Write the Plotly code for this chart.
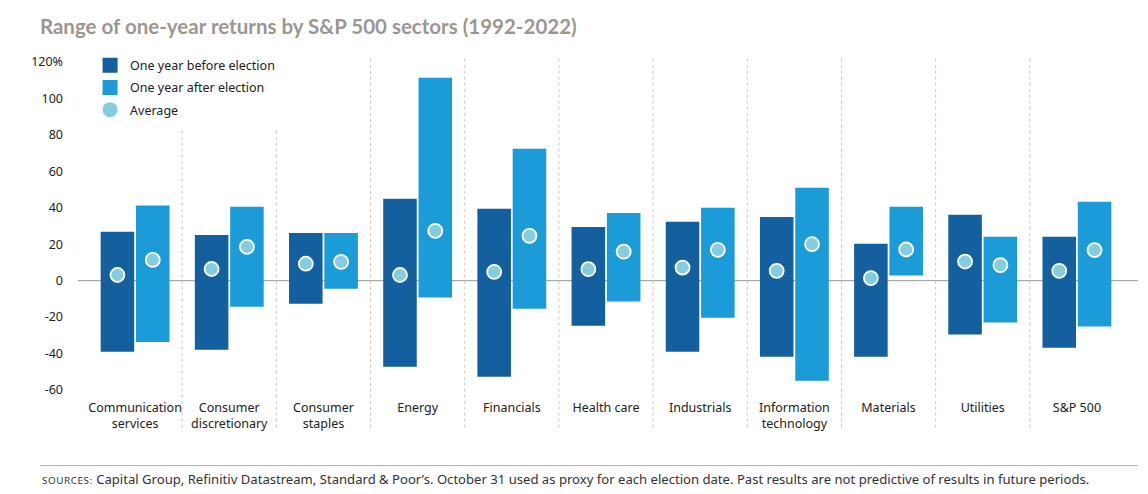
import plotly.graph_objects as go

categories = ["Communication<br>services", "Consumer<br>discretionary", "Consumer<br>staples",
              "Energy", "Financials", "Health care", "Industrials",
              "Information<br>technology", "Materials", "Utilities", "S&P 500"]

before_high = [26.8, 25.1, 26.2, 44.9, 39.4, 29.5, 32.3, 35.0, 20.2, 36.2, 24.1]
before_low = [-39.0, -37.9, -12.6, -47.2, -52.7, -24.7, -39.0, -41.7, -41.7, -29.6, -36.8]
before_avg = [3.1, 6.4, 9.3, 3.1, 4.8, 6.3, 7.2, 5.4, 1.4, 10.5, 5.4]

after_high = [41.2, 40.5, 26.2, 111.4, 72.4, 37.2, 40.0, 51.0, 40.5, 24.1, 43.3]
after_low = [-33.7, -14.3, -4.4, -9.3, -15.4, -11.5, -20.3, -54.9, 2.8, -23.0, -25.2]
after_avg = [11.4, 18.5, 10.3, 27.3, 24.6, 15.9, 16.9, 20.0, 17.1, 8.5, 16.8]

tick_vals = [-60, -40, -20, 0, 20, 40, 60, 80, 100, 120]
tick_text = ["-60", "-40", "-20", "0", "20", "40", "60", "80", "100", "120%"]

DARK = "#145f9e"
LIGHT = "#1b9bd7"
AVG = "#86cce0"
TITLE_FONT = "Lato"
FONT = "Noto Sans"

fig = go.Figure()
fig.add_trace(go.Bar(
    x=categories, base=before_low,
    y=[h - l for h, l in zip(before_high, before_low)],
    name="One year before election", marker=dict(color=DARK, line=dict(width=0)),
    offsetgroup="before", alignmentgroup="g", showlegend=False,
))
fig.add_trace(go.Bar(
    x=categories, base=after_low,
    y=[h - l for h, l in zip(after_high, after_low)],
    name="One year after election", marker=dict(color=LIGHT, line=dict(width=0)),
    offsetgroup="after", alignmentgroup="g", showlegend=False,
))
fig.add_trace(go.Scatter(
    x=categories, y=before_avg, mode="markers", name="Average", showlegend=False,
    marker=dict(color=AVG, size=14, line=dict(color="white", width=1.8)),
    offsetgroup="before", alignmentgroup="g",
))
fig.add_trace(go.Scatter(
    x=categories, y=after_avg, mode="markers", name="Average", showlegend=False,
    marker=dict(color=AVG, size=14, line=dict(color="white", width=1.8)),
    offsetgroup="after", alignmentgroup="g",
))

# legend entries (legend-only markers)
legend_items = [("One year before election", DARK, "square"),
                ("One year after election", LIGHT, "square"),
                ("Average", AVG, "circle")]
for i, (nm, col, sym) in enumerate(legend_items):
    fig.add_trace(go.Scatter(
        x=[None], y=[None], mode="markers", name=nm, legendgroup=f"g{i}",
        marker=dict(color=col, symbol=sym, size=15, line=dict(width=0)),
        hoverinfo="skip",
    ))

# zero line
fig.add_shape(type="line", xref="paper", yref="y", x0=-0.0097, x1=1.0135, y0=0, y1=0,
              line=dict(color="#9a9a9a", width=1), layer="below")

# dashed separators between categories
for i in range(len(categories) - 1):
    top = 0.8 if i < 2 else 1.0165
    fig.add_shape(type="line", xref="x", yref="paper", x0=i + 0.5, x1=i + 0.5,
                  y0=-0.115, y1=top,
                  line=dict(color="#c8c8c8", width=1, dash="3px,3px"), layer="below")

# footer rule and note
fig.add_shape(type="line", xref="paper", yref="paper", x0=-0.0463, x1=1.0135,
              y0=-0.2305, y1=-0.2305, line=dict(color="#b0b0b0", width=1))
fig.add_annotation(
    xref="paper", yref="paper", x=-0.0463, y=-0.272, xanchor="left", yanchor="middle",
    showarrow=False, align="left",
    text="<span style='font-size:9.8px;letter-spacing:0.6px'>SOURCES:</span> Capital Group, Refinitiv Datastream, Standard &amp; Poor’s. "
         "October 31 used as proxy for each election date. Past results are not predictive of results in future periods.",
    font=dict(family=FONT, size=13.1, color="#333333"),
)

fig.update_layout(
    width=1140, height=486,
    margin=dict(l=80, r=24, t=54, b=104),
    paper_bgcolor="white", plot_bgcolor="white",
    barmode="group", bargap=0.25, bargroupgap=0.05,
    scattermode="group", scattergap=0.25,
    font=dict(family=FONT, color="#222222", size=12.5),
    title=dict(text="<b>Range of one-year returns by S&P 500 sectors (1992-2022)</b>",
               x=0.028, xanchor="left", y=0.962, yanchor="middle",
               font=dict(family=TITLE_FONT, size=20.5, color="#9c968f")),
    showlegend=True,
    legend=dict(x=0.002, y=1.035, xanchor="left", yanchor="top",
                bgcolor="rgba(0,0,0,0)", font=dict(family=FONT, size=12.5, color="#222222"),
                tracegroupgap=3, itemwidth=30, itemsizing="trace"),
    xaxis=dict(showgrid=False, zeroline=False, showline=False, ticks="",
               ticklabelstandoff=8,
               tickfont=dict(family=FONT, size=12.5, color="#222222"), fixedrange=True),
    yaxis=dict(range=[-60, 120], tickvals=tick_vals, ticktext=tick_text,
               showgrid=False, zeroline=False, showline=False, ticks="",
               ticklabelstandoff=24,
               tickfont=dict(family=FONT, size=12.5, color="#222222"), fixedrange=True),
)

fig.write_html("out.html")
